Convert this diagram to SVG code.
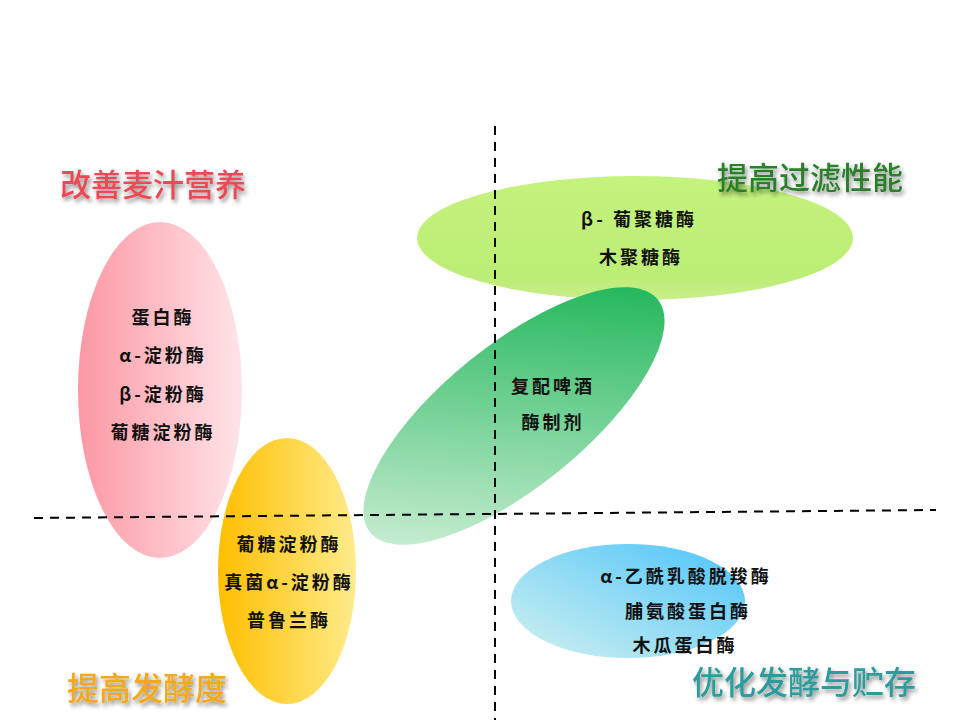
<svg xmlns="http://www.w3.org/2000/svg" width="960" height="720" viewBox="0 0 960 720">
<defs>
<style>
.lbl{font-family:"Noto Sans CJK SC","Noto Sans",sans-serif;font-size:18px;font-weight:bold;fill:#111;text-anchor:middle;letter-spacing:3px}
.ttl{font-family:"Noto Sans CJK SC","Noto Sans",sans-serif;font-size:31px;font-weight:500;filter:url(#sh)}
.dash{stroke:#000;stroke-width:2;stroke-dasharray:9,7;fill:none}
</style>
<filter id="sh" x="-10%" y="-30%" width="130%" height="180%">
<feDropShadow dx="2" dy="3" stdDeviation="2.2" flood-color="#000" flood-opacity="0.45"/>
</filter>
<linearGradient id="gPink" x1="0" y1="0" x2="1" y2="0">
<stop offset="0" stop-color="#fc98a4"/>
<stop offset="1" stop-color="#ffe4e8"/>
</linearGradient>
<linearGradient id="gYellow" x1="0" y1="0" x2="1" y2="0">
<stop offset="0" stop-color="#ffbf00"/>
<stop offset="1" stop-color="#ffeb8c"/>
</linearGradient>
<linearGradient id="gLime" x1="0" y1="0" x2="0" y2="1">
<stop offset="0" stop-color="#c4f37e"/>
<stop offset="0.8" stop-color="#bced74"/>
<stop offset="1" stop-color="#c8ee8a"/>
</linearGradient>
<linearGradient id="gGreen" x1="0" y1="0.7" x2="1" y2="0.3">
<stop offset="0" stop-color="#cbeed4"/>
<stop offset="1" stop-color="#1fb659"/>
</linearGradient>
<linearGradient id="gBlue" x1="0" y1="1" x2="1" y2="0">
<stop offset="0" stop-color="#d2f2ee"/>
<stop offset="1" stop-color="#4cc3fb"/>
</linearGradient>
</defs>
<rect width="960" height="720" fill="#fff"/>

<g id="node-pink">
<ellipse cx="160" cy="390" rx="82" ry="168" fill="url(#gPink)"/>
<text class="lbl" x="163" y="324">蛋白酶</text>
<text class="lbl" x="163" y="362">α-淀粉酶</text>
<text class="lbl" x="163" y="401">β-淀粉酶</text>
<text class="lbl" x="163" y="439">葡糖淀粉酶</text>
</g>

<g id="node-yellow">
<ellipse cx="287" cy="571" rx="69" ry="133" fill="url(#gYellow)"/>
<text class="lbl" x="289" y="551">葡糖淀粉酶</text>
<text class="lbl" x="289" y="589">真菌α-淀粉酶</text>
<text class="lbl" x="289" y="627">普鲁兰酶</text>
</g>

<g id="node-lime">
<ellipse cx="635" cy="238" rx="218" ry="62" fill="url(#gLime)"/>
<text class="lbl" x="639" y="226">β- 葡聚糖酶</text>
<text class="lbl" x="641" y="264">木聚糖酶</text>
</g>

<g id="node-green">
<ellipse cx="0" cy="0" rx="185" ry="71" fill="url(#gGreen)" transform="translate(514,416) rotate(-39)"/>
<text class="lbl" x="553" y="393">复配啤酒</text>
<text class="lbl" x="553" y="429">酶制剂</text>
</g>

<g id="node-blue">
<ellipse cx="628" cy="601" rx="117" ry="57" fill="url(#gBlue)"/>
<text class="lbl" x="686" y="583">α-乙酰乳酸脱羧酶</text>
<text class="lbl" x="688" y="618">脯氨酸蛋白酶</text>
<text class="lbl" x="685" y="652">木瓜蛋白酶</text>
</g>

<g id="connectors">
<line class="dash" x1="495" y1="126" x2="495" y2="720"/>
<line class="dash" x1="34" y1="518" x2="936" y2="510"/>
</g>

<g id="titles">
<text class="ttl" x="153" y="196" text-anchor="middle" fill="#ea4a55">改善麦汁营养</text>
<text class="ttl" x="810" y="189" text-anchor="middle" fill="#2b7f2b">提高过滤性能</text>
<text class="ttl" x="147" y="700" text-anchor="middle" fill="#f2a91e" style="font-size:32px">提高发酵度</text>
<text class="ttl" x="804" y="694" text-anchor="middle" fill="#2e9c9c" style="font-size:32px">优化发酵与贮存</text>
</g>
</svg>
